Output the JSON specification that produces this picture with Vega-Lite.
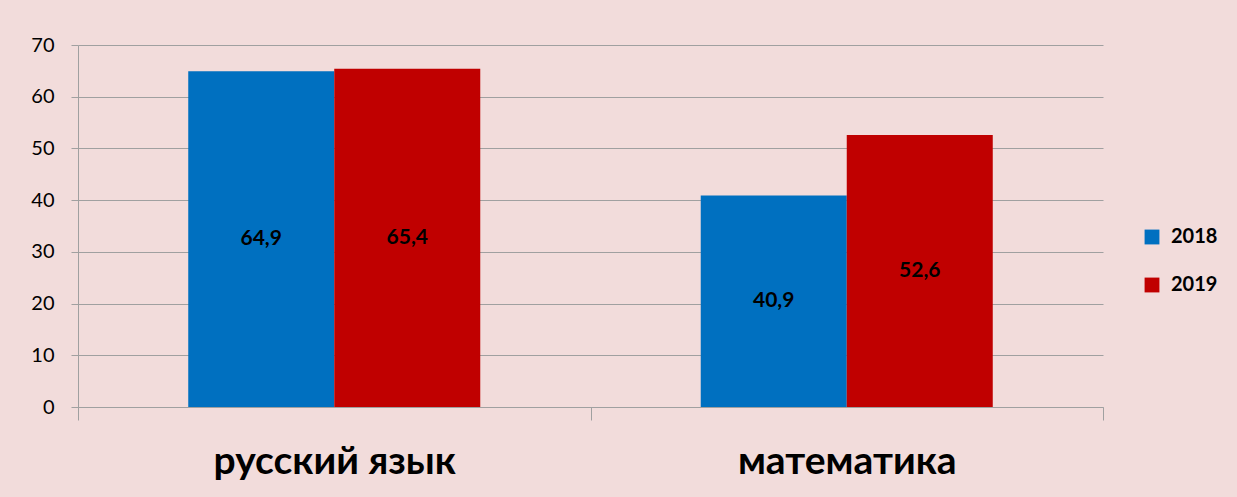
{
  "$schema": "https://vega.github.io/schema/vega-lite/v6.json",
  "width": 1025,
  "height": 362,
  "autosize": {"type": "none"},
  "padding": {"left": 78, "top": 45, "right": 134, "bottom": 90},
  "background": "#F2DCDB",
  "config": {"view": {"stroke": null}, "font": "Lato"},
  "data": {
    "values": [
      {"subject": "русский язык", "year": "2018", "value": 64.9, "label": "64,9"},
      {"subject": "русский язык", "year": "2019", "value": 65.4, "label": "65,4"},
      {"subject": "математика", "year": "2018", "value": 40.9, "label": "40,9"},
      {"subject": "математика", "year": "2019", "value": 52.6, "label": "52,6"}
    ]
  },
  "encoding": {
    "x": {
      "field": "subject", "type": "nominal", "sort": null,
      "scale": {"paddingInner": 0, "paddingOuter": 0},
      "axis": {
        "title": null, "labelAngle": 0, "labelFontSize": 39, "labelFontWeight": "bold",
        "labelColor": "black", "labelPadding": 22, "labelLimit": 0, "tickBand": "extent", "tickSize": 13,
        "tickColor": "#A0A0A0", "domainColor": "#A0A0A0", "grid": false
      }
    },
    "xOffset": {"field": "year", "type": "nominal", "scale": {"paddingInner": 0, "paddingOuter": 0.755}}
  },
  "layer": [
    {
      "mark": {"type": "bar"},
      "encoding": {
        "y": {
          "field": "value", "type": "quantitative",
          "scale": {"domain": [0, 70]},
          "axis": {
            "title": null, "values": [0,10,20,30,40,50,60,70], "labelOverlap": false,
            "labelFontSize": 20, "labelColor": "black", "labelPadding": 17,
            "tickSize": 7, "tickColor": "#A0A0A0", "domainColor": "#A0A0A0",
            "gridColor": "#A0A0A0", "gridWidth": 1
          }
        },
        "color": {
          "field": "year", "type": "nominal",
          "scale": {"domain": ["2018", "2019"], "range": ["#0070C0", "#C00000"]},
          "legend": {
            "title": null, "orient": "none", "legendX": 1064, "legendY": 182,
            "symbolType": "square", "symbolSize": 220, "symbolStrokeWidth": 0,
            "labelFontSize": 20, "labelFontWeight": "bold", "labelColor": "black",
            "rowPadding": 28, "labelOffset": 9
          }
        }
      }
    },
    {
      "mark": {"type": "text", "fontSize": 21, "fontWeight": "bold", "color": "black", "baseline": "middle"},
      "encoding": {
        "y": {"field": "value", "type": "quantitative", "scale": {"domain": [0, 140]}, "axis": null},
        "text": {"field": "label"}
      }
    }
  ],
  "resolve": {"scale": {"y": "independent"}}
}
